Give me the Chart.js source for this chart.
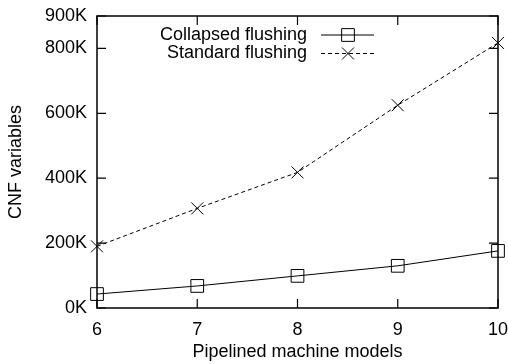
<!DOCTYPE html>
<html>
<head>
<meta charset="utf-8">
<script src="https://cdn.jsdelivr.net/npm/chart.js@4/dist/chart.umd.min.js"></script>
<style>
  html, body { margin: 0; padding: 0; background: #fff; }
  #wrap { width: 508px; height: 364px; }
</style>
</head>
<body>
<div id="wrap"><canvas id="c" width="508" height="364"></canvas></div>
<script>
const categories = ['6', '7', '8', '9', '10'];
const collapsedFlushing = [43000, 68000, 99000, 130000, 176000];
const standardFlushing = [190000, 307000, 418000, 625000, 817000];
const yTickValues = [0, 200000, 400000, 600000, 800000, 900000];
const seriesNames = ['Collapsed flushing', 'Standard flushing'];

const FONT = { family: '"Liberation Sans", Arial, Helvetica, sans-serif', size: 18 };

const framePlugin = {
  id: 'framePlugin',
  afterDatasetsDraw(chart) {
    const ctx = chart.ctx;
    const a = chart.chartArea;
    const xs = chart.scales.x, ys = chart.scales.y;
    ctx.save();
    ctx.strokeStyle = '#000';
    ctx.lineWidth = 1.5;
    ctx.setLineDash([]);
    ctx.strokeRect(a.left, a.top, a.right - a.left, a.bottom - a.top);
    ctx.lineWidth = 1.2;
    const tl = 9;
    ctx.beginPath();
    yTickValues.forEach(v => {
      const y = ys.getPixelForValue(v);
      ctx.moveTo(a.left, y); ctx.lineTo(a.left + tl, y);
      ctx.moveTo(a.right, y); ctx.lineTo(a.right - tl, y);
    });
    categories.forEach((c, i) => {
      const x = xs.getPixelForValue(i);
      ctx.moveTo(x, a.bottom); ctx.lineTo(x, a.bottom - tl);
      ctx.moveTo(x, a.top); ctx.lineTo(x, a.top + tl);
    });
    ctx.stroke();
    ctx.restore();
  },
  afterDraw(chart) {
    // gnuplot-style legend: text right-aligned, then line sample with marker
    const ctx = chart.ctx;
    const textRight = 307, lineL = 321, lineR = 374, mid = 348;
    chart.data.datasets.forEach((ds, i) => {
      const y = 35 + i * 18.5;
      ctx.save();
      ctx.fillStyle = '#000';
      ctx.font = FONT.size + 'px ' + FONT.family;
      ctx.textAlign = 'right';
      ctx.textBaseline = 'middle';
      ctx.fillText(ds.label, textRight, y);
      ctx.strokeStyle = ds.borderColor;
      ctx.lineWidth = ds.borderWidth;
      ctx.setLineDash(ds.borderDash || []);
      ctx.beginPath();
      ctx.moveTo(lineL, y); ctx.lineTo(lineR, y);
      ctx.stroke();
      ctx.setLineDash([]);
      ctx.lineWidth = ds.pointBorderWidth;
      ctx.strokeStyle = ds.pointBorderColor;
      ctx.fillStyle = 'rgba(0,0,0,0)';
      if (Chart.helpers && Chart.helpers.drawPoint) {
        Chart.helpers.drawPoint(ctx, {
          pointStyle: ds.pointStyle, radius: ds.pointRadius, rotation: 0, borderWidth: ds.pointBorderWidth
        }, mid, y);
      }
      ctx.restore();
    });
  }
};

new Chart(document.getElementById('c'), {
  type: 'line',
  data: {
    labels: categories,
    datasets: [
      {
        label: seriesNames[0],
        data: collapsedFlushing,
        borderColor: '#000',
        borderWidth: 1,
        tension: 0,
        pointStyle: 'rect',
        pointRadius: 9,
        pointHoverRadius: 9,
        pointBorderWidth: 1,
        pointBorderColor: '#000',
        pointBackgroundColor: 'rgba(0,0,0,0)'
      },
      {
        label: seriesNames[1],
        data: standardFlushing,
        borderColor: '#000',
        borderWidth: 1,
        borderDash: [4, 3],
        tension: 0,
        pointStyle: 'crossRot',
        pointRadius: 8.5,
        pointHoverRadius: 8.5,
        pointBorderWidth: 1,
        pointBorderColor: '#000',
        pointBackgroundColor: 'rgba(0,0,0,0)'
      }
    ]
  },
  options: {
    responsive: false,
    animation: false,
    events: [],
    layout: { padding: { left: 0, right: 10, top: 16, bottom: 0 } },
    plugins: { legend: { display: false }, tooltip: { enabled: false } },
    scales: {
      x: {
        type: 'category',
        offset: false,
        grid: { display: false, drawTicks: false, tickLength: 0 },
        border: { display: false },
        ticks: { color: '#000', font: FONT, padding: 11, maxRotation: 0, autoSkip: false },
        title: { display: true, text: 'Pipelined machine models', color: '#000', font: FONT, padding: { top: 0, bottom: 1 } },
        afterFit(s) { s.height = 56; s.paddingRight = 0; s.paddingLeft = 0; }
      },
      y: {
        type: 'linear',
        min: 0,
        max: 900000,
        grid: { display: false, drawTicks: false, tickLength: 0 },
        border: { display: false },
        afterBuildTicks(s) { s.ticks = yTickValues.map(v => ({ value: v })); },
        ticks: {
          color: '#000', font: FONT, padding: 10,
          callback: v => (v / 1000) + 'K'
        },
        title: { display: true, text: 'CNF variables', color: '#000', font: FONT, padding: { top: 5, bottom: 0 } },
        afterFit(s) { s.width = 97; s.paddingTop = 0; s.paddingBottom = 0; }
      }
    }
  },
  plugins: [framePlugin]
});
</script>
</body>
</html>
